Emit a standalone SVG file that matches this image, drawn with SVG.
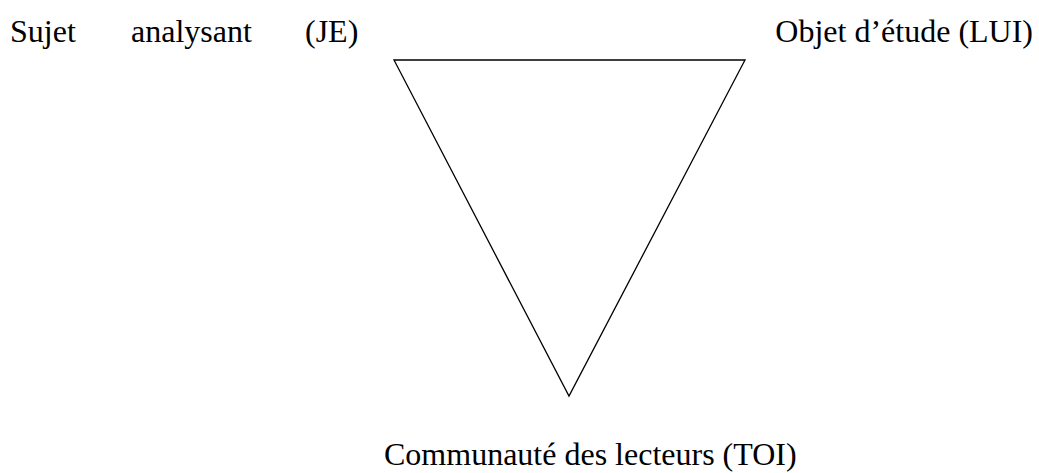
<svg xmlns="http://www.w3.org/2000/svg" width="1039" height="473" viewBox="0 0 1039 473">
<style>
text{font-family:"Liberation Serif","Times New Roman",serif;font-size:32px;fill:#000}
</style>
<rect width="1039" height="473" fill="#fff"/>
<g id="connectors">
<polygon points="394,60 745,60 569,396" fill="none" stroke="#000" stroke-width="1.3"/>
</g>
<g id="node-je"><text x="10" y="42">Sujet</text><text x="131" y="42">analysant</text><text x="305" y="42">(JE)</text></g>
<g id="node-lui"><text x="1033" y="42" text-anchor="end">Objet d’étude (LUI)</text></g>
<g id="node-toi"><text x="384" y="465">Communauté des lecteurs (TOI)</text></g>
</svg>
